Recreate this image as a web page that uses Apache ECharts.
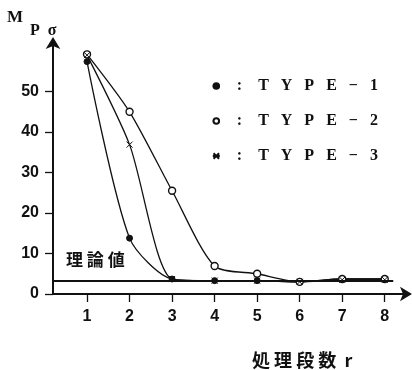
<!DOCTYPE html>
<html>
<head>
<meta charset="utf-8">
<script src="https://cdn.jsdelivr.net/npm/echarts@6/dist/echarts.min.js"></script>
<style>
  html, body { margin: 0; padding: 0; background: #fff; }
  #chart { width: 412px; height: 370px; }
</style>
</head>
<body>
<div id="chart"></div>
<script>
// 処理段数 r ごとの M_Pσ（TYPE-1/2/3）と理論値
const stages = [1, 2, 3, 4, 5, 6, 7, 8]
const yTicks = [0, 10, 20, 30, 40, 50]
const seriesNames = ['TYPE-1', 'TYPE-2', 'TYPE-3']
const type1 = [57.4, 13.8, 3.7, 3.3, 3.3, 3.0, 3.7, 3.7]
const type2 = [59.2, 45.0, 25.5, 6.9, 5.0, 3.0, 3.7, 3.7]
const type3 = [59.0, 36.9, 3.7, 3.3, 3.3, 3.0, 3.5, 3.5]
const theoryValue = 3.2

const BLACK = '#111'
const SERIF = '"Liberation Serif", "DejaVu Serif", serif'
const SANS = '"Liberation Sans", Arial, sans-serif'
const CJK = '"Noto Sans CJK JP", sans-serif'
const CROSS = 'path://M0,0L10,10M10,0L0,10'

const chart = echarts.init(document.getElementById('chart'), null, { renderer: 'canvas' })

function pairs(values) {
  return values.map((v, i) => [stages[i], v])
}

// 白抜き丸は emptyCircle だと線が消えるので circle + 白塗りで描く
function lineSeries(name, values, symbol, size, fill, border) {
  return {
    name,
    type: 'line',
    data: pairs(values),
    smooth: 0.25,
    symbol,
    symbolSize: size,
    showSymbol: true,
    lineStyle: { color: BLACK, width: 1.3 },
    itemStyle: { color: fill, borderColor: BLACK, borderWidth: border },
    z: 3,
  }
}

const series = [
  lineSeries(seriesNames[0], type1, 'circle', 6, BLACK, 1),
  lineSeries(seriesNames[1], type2, 'circle', 7, '#fff', 1.4),
  lineSeries(seriesNames[2], type3, CROSS, 6, 'none', 1),
]
// 理論値の水平線
series[0].markLine = {
  silent: true,
  symbol: 'none',
  label: { show: false },
  lineStyle: { color: BLACK, width: 2, type: 'solid' },
  data: [[{ coord: [0.2, theoryValue] }, { coord: [8.2, theoryValue] }]],
}

function legendText(n) {
  return '   :    ' + n.replace('-', '−').split('').join('   ')
}

chart.setOption({
  animation: false,
  backgroundColor: '#fff',
  grid: { left: 53, right: 6, top: 43, bottom: 76, containLabel: false },
  xAxis: {
    type: 'value',
    min: 0.2,
    max: 8.5,
    axisLine: {
      show: true,
      lineStyle: { color: BLACK, width: 2 },
      symbol: ['none', 'arrow'],
      symbolSize: [11, 12],
      symbolOffset: [0, 6],
    },
    axisTick: { show: true, inside: false, length: 8, customValues: stages, lineStyle: { color: BLACK, width: 1.3 } },
    axisLabel: {
      customValues: stages,
      margin: 15,
      color: BLACK,
      fontFamily: SANS,
      fontWeight: 'bold',
      fontSize: 16,
    },
    splitLine: { show: false },
  },
  yAxis: {
    type: 'value',
    min: 0,
    max: 62,
    axisLine: {
      show: true,
      onZero: false,
      lineStyle: { color: BLACK, width: 2 },
      symbol: ['none', 'arrow'],
      symbolSize: [11, 12],
      symbolOffset: [0, 6],
    },
    axisTick: { show: true, length: 8, customValues: yTicks, lineStyle: { color: BLACK, width: 1.3 } },
    axisLabel: {
      customValues: yTicks,
      margin: 14,
      color: BLACK,
      fontFamily: SANS,
      fontWeight: 'bold',
      fontSize: 16,
    },
    splitLine: { show: false },
  },
  legend: {
    orient: 'vertical',
    left: 206,
    top: 73,
    itemGap: 19,
    itemWidth: 7,
    itemHeight: 7,
    data: seriesNames,
    formatter: legendText,
    textStyle: { color: BLACK, fontFamily: SERIF, fontWeight: 'bold', fontSize: 16 },
  },
  graphic: [
    { type: 'text', left: 7, top: 9, style: { text: 'M', font: 'bold 17px ' + SERIF, fill: BLACK } },
    { type: 'text', left: 30, top: 23, style: { text: 'P  σ', font: 'bold 16px ' + SERIF, fill: BLACK } },
    { type: 'text', left: 66, top: 251, style: { text: '理 論 値', font: 'bold 17px ' + CJK, fill: BLACK } },
    { type: 'text', left: 252, top: 351, style: { text: '処 理 段 数  r', font: 'bold 18px ' + CJK, fill: BLACK } },
  ],
  series,
})
</script>
</body>
</html>
